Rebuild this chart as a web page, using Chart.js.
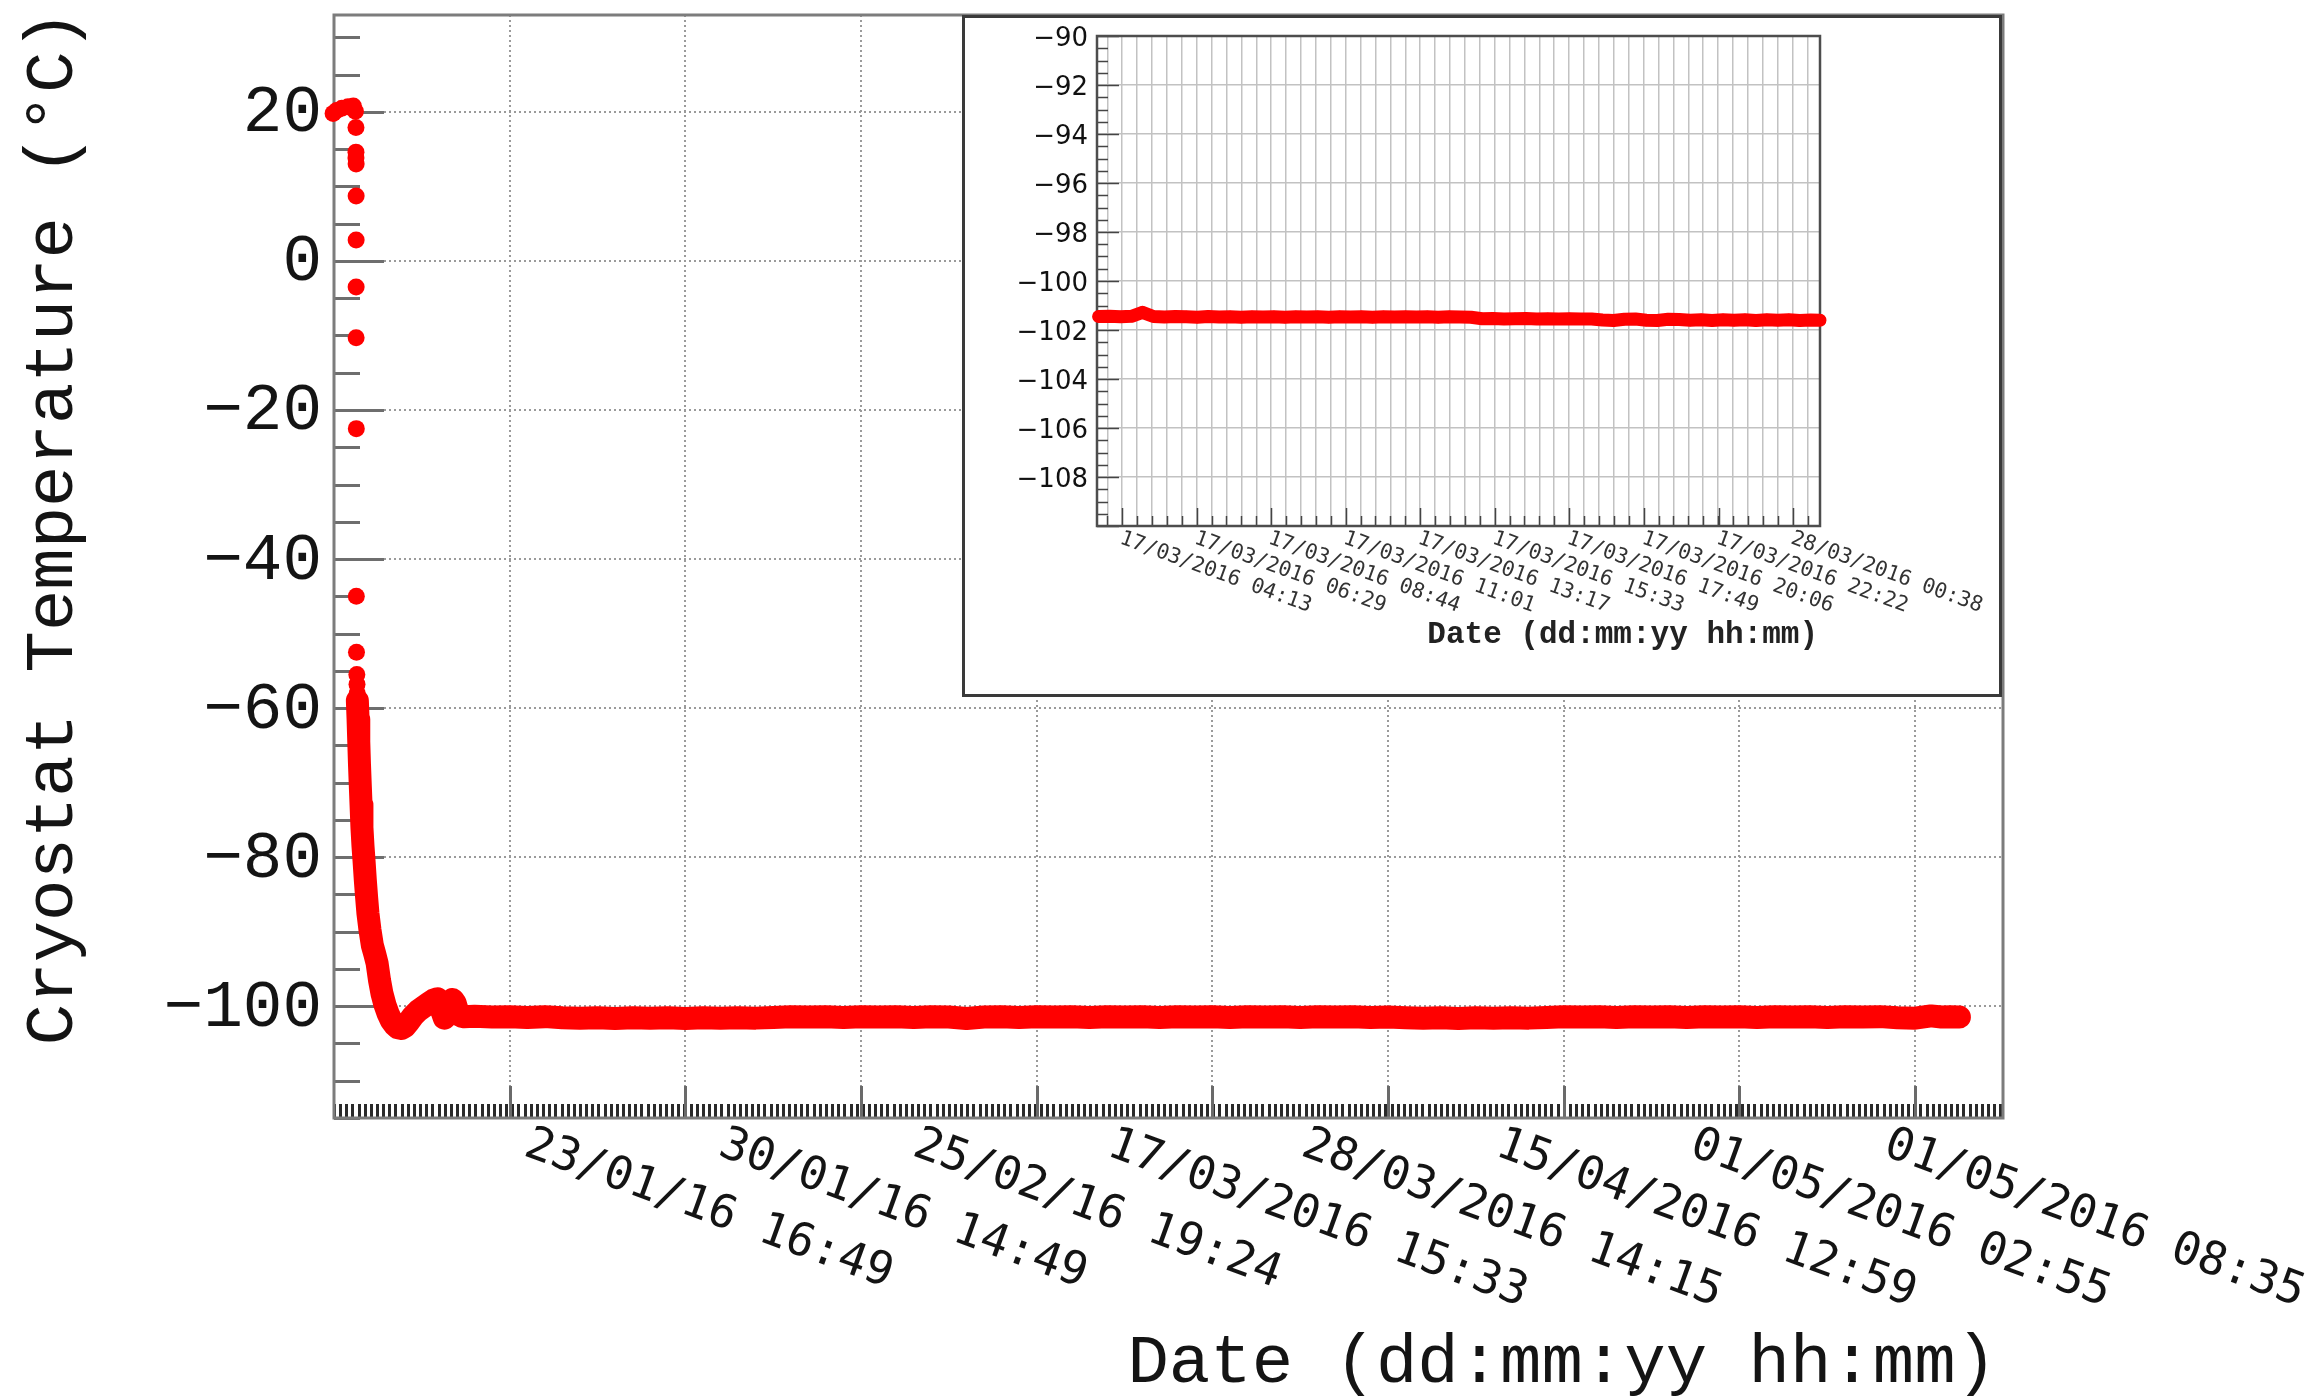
<!DOCTYPE html>
<html>
<head>
<meta charset="utf-8">
<title>Cryostat temperature</title>
<script src="https://cdn.jsdelivr.net/npm/chart.js@4.4.1/dist/chart.umd.min.js"></script>
<style>
  html, body { margin: 0; padding: 0; background: #ffffff; }
  #wrap { position: relative; width: 2306px; height: 1396px; overflow: hidden; }
  #main { position: absolute; left: 0; top: 0; width: 2306px; height: 1396px; }
  #inset { position: absolute; left: 962px; top: 15px; width: 1040px; height: 682px; }
</style>
</head>
<body>
<div id="wrap">
  <canvas id="main" width="2306" height="1396"></canvas>
  <canvas id="inset" width="1040" height="682"></canvas>
</div>
<script>
// ---- Full run: cryostat temperature per logged reading ----
const sampleIndex = [
  -22, -5, 15, 45, 80, 110, 122,
  125, 125, 125, 126, 126, 126, 126, 126, 127, 127, 128, 130, 131, 132,
  133, 137, 141, 145, 149, 154, 159, 165, 171, 178, 186, 193, 205, 218, 232, 245,
  259, 273, 290, 308, 326, 345, 364, 385, 404, 425, 450, 480, 510, 540, 565, 590,
  610, 628, 645, 660, 675, 690, 705, 720, 740,
  800, 900, 1000, 1100, 1200, 1300, 1400, 1500, 1600, 1700, 1800, 1900, 2000,
  2100, 2200, 2300, 2400, 2500, 2600, 2700, 2800, 2900, 3000, 3100, 3200, 3300,
  3400, 3500, 3600, 3700, 3800, 3900, 4000, 4100, 4200, 4300, 4400, 4500, 4600,
  4700, 4800, 4900, 5000, 5100, 5200, 5300, 5400, 5500, 5600, 5700, 5800, 5900,
  6000, 6100, 6200, 6300, 6400, 6500, 6600, 6700, 6800, 6900, 7000, 7100, 7200,
  7300, 7400, 7500, 7600, 7700, 7800, 7900, 8000, 8100, 8200, 8300, 8400, 8500,
  8600, 8700, 8800, 8900, 9000, 9090, 9150, 9200, 9252
];
const cryostatTemp = [
  20.0, 19.8, 20.2, 20.5, 20.7, 20.8, 20.1,
  17.9, 14.6, 13.8, 13.0, 8.7, 2.8, -3.5, -10.3, -22.5, -45.0, -52.5, -55.5, -56.8, -58.0,
  -59.0, -61.5, -64.5, -67.5, -70.0, -73.0, -76.0, -78.5, -80.5, -83.0, -85.5, -87.5, -89.8, -91.8, -93.0, -94.2,
  -96.5, -98.3, -99.8, -101.0, -101.9, -102.5, -102.9, -103.0, -102.7, -102.1, -101.3, -100.6, -100.1, -99.6, -99.2, -99.0,
  -100.4, -101.6, -100.6, -99.5, -99.1, -99.6, -100.8, -101.3, -101.4,
  -101.35, -101.45, -101.4, -101.5, -101.4, -101.55, -101.6, -101.55, -101.65, -101.55, -101.6, -101.55, -101.65,
  -101.55, -101.6, -101.55, -101.6, -101.5, -101.4, -101.45, -101.4, -101.5, -101.4, -101.45, -101.4, -101.5,
  -101.4, -101.45, -101.65, -101.45, -101.4, -101.5, -101.4, -101.45, -101.4, -101.5, -101.4, -101.45, -101.4,
  -101.5, -101.4, -101.45, -101.4, -101.5, -101.4, -101.45, -101.4, -101.5, -101.4, -101.45, -101.4, -101.5,
  -101.45, -101.55, -101.6, -101.55, -101.65, -101.55, -101.6, -101.55, -101.6, -101.5, -101.4, -101.45, -101.4,
  -101.5, -101.4, -101.45, -101.4, -101.5, -101.4, -101.45, -101.4, -101.5, -101.4, -101.45, -101.4, -101.5,
  -101.4, -101.45, -101.4, -101.55, -101.6, -101.3, -101.45, -101.4, -101.45
];
// first reading from which the logger ran continuously (joined as a trace)
const denseFrom = 21;

// Axis layout of the full run
const tempMajorStep = 20;
const tempMinorStep = 5;
const sampleGridStep = 1000;
const sampleMinorStep = 35;
const dateLabels = [
  '23/01/16 16:49', '30/01/16 14:49', '25/02/16 19:24', '17/03/2016 15:33',
  '28/03/2016 14:15', '15/04/2016 12:59', '01/05/2016 02:55', '01/05/2016 08:35'
];
const dateLabelAt = [1140, 2246, 3352, 4458, 5564, 6670, 7776, 8880];

// ---- Inset: one day of the plateau (minutes from 17/03/2016 00:00) ----
const insetMinutes = [
  210, 230, 250, 270, 290, 310, 330, 350, 370, 390, 410, 430, 450, 470, 490, 510,
  530, 550, 570, 590, 610, 630, 650, 670, 690, 710, 730, 750, 770, 790, 810, 830,
  850, 870, 890, 910, 930, 950, 970, 990, 1010, 1030, 1050, 1070, 1090, 1110, 1130,
  1150, 1170, 1190, 1210, 1230, 1250, 1270, 1290, 1310, 1330, 1350, 1370, 1390,
  1410, 1430, 1450, 1470, 1490, 1510, 1527
];
const insetTemp = [
  -101.45, -101.44, -101.46, -101.44, -101.28, -101.45, -101.47, -101.45, -101.46, -101.48,
  -101.45, -101.47, -101.46, -101.48, -101.46, -101.47, -101.46, -101.48, -101.46, -101.47,
  -101.46, -101.48, -101.46, -101.47, -101.46, -101.48, -101.46, -101.47, -101.46, -101.47,
  -101.46, -101.48, -101.46, -101.47, -101.48, -101.54, -101.53, -101.55, -101.54, -101.53,
  -101.55, -101.54, -101.55, -101.54, -101.55, -101.55, -101.59, -101.61, -101.56, -101.55,
  -101.60, -101.61, -101.56, -101.57, -101.60, -101.58, -101.61, -101.58, -101.60, -101.58,
  -101.61, -101.58, -101.60, -101.58, -101.61, -101.59, -101.60
];
const insetLabels = [
  '17/03/2016 04:13', '17/03/2016 06:29', '17/03/2016 08:44', '17/03/2016 11:01',
  '17/03/2016 13:17', '17/03/2016 15:33', '17/03/2016 17:49', '17/03/2016 20:06',
  '17/03/2016 22:22', '28/03/2016 00:38'
];
const insetLabelAt = [253, 389, 524, 661, 797, 933, 1069, 1206, 1342, 1478];
const insetTempStep = 2;
const insetTempMinorStep = 0.5;
const insetSubdivisions = 5;

const RED = '#ff0000';
const MINUS = '\u2212';
const fmtNum = v => (v < 0 ? MINUS + Math.abs(v) : String(v));
const LABEL_ANGLE = 20 * Math.PI / 180;

// ---------- main chart decorations: frame, inward ticks, labels, titles ----------
const mainDecor = {
  id: 'mainDecor',
  beforeDatasetsDraw(chart) {
    const { ctx, chartArea: a, scales: { x, y } } = chart;
    ctx.save();
    ctx.lineCap = 'butt';
    // y ticks (inward from the left axis)
    ctx.strokeStyle = '#6e6e6e';
    ctx.lineWidth = 3;
    ctx.beginPath();
    for (let v = Math.ceil(y.min / tempMinorStep) * tempMinorStep; v <= y.max; v += tempMinorStep) {
      const py = Math.round(y.getPixelForValue(v)) + 0.5;
      const len = (v % tempMajorStep === 0) ? 50 : 26;
      ctx.moveTo(a.left, py);
      ctx.lineTo(a.left + len, py);
    }
    ctx.stroke();
    // x ticks (inward from the bottom axis)
    ctx.strokeStyle = '#2a2a2a';
    ctx.lineWidth = 3;
    ctx.beginPath();
    for (let v = 0; v <= x.max; v += sampleMinorStep) {
      const px = Math.round(x.getPixelForValue(v)) + 0.5;
      ctx.moveTo(px, a.bottom);
      ctx.lineTo(px, a.bottom - 14);
    }
    ctx.stroke();
    ctx.strokeStyle = '#6a6a6a';
    ctx.lineWidth = 3;
    ctx.beginPath();
    for (let v = sampleGridStep; v <= x.max; v += sampleGridStep) {
      const px = Math.round(x.getPixelForValue(v)) + 0.5;
      ctx.moveTo(px, a.bottom);
      ctx.lineTo(px, a.bottom - 32);
    }
    ctx.stroke();
    // frame
    ctx.strokeStyle = '#7c7c7c';
    ctx.lineWidth = 3;
    ctx.strokeRect(a.left, a.top, a.right - a.left, a.bottom - a.top);
    ctx.restore();
  },
  afterDraw(chart) {
    const { ctx, chartArea: a, scales: { x, y } } = chart;
    ctx.save();
    ctx.fillStyle = '#141414';
    // y tick labels
    ctx.font = '66px "Liberation Mono"';
    ctx.textAlign = 'right';
    ctx.textBaseline = 'middle';
    for (let v = -100; v <= y.max; v += tempMajorStep) {
      ctx.fillText(fmtNum(v), 322, y.getPixelForValue(v) + 2);
    }
    // rotated date labels
    ctx.font = '46px "DejaVu Sans Mono"';
    ctx.textAlign = 'left';
    ctx.textBaseline = 'top';
    dateLabels.forEach((t, i) => {
      ctx.save();
      ctx.translate(x.getPixelForValue(dateLabelAt[i]), a.bottom + 4);
      ctx.rotate(LABEL_ANGLE);
      ctx.fillText(t, 0, 0);
      ctx.restore();
    });
    // axis titles
    ctx.font = '69px "Liberation Mono"';
    ctx.textAlign = 'right';
    ctx.textBaseline = 'alphabetic';
    ctx.fillText('Date (dd:mm:yy hh:mm)', a.right - 6, 1382);
    ctx.save();
    ctx.translate(72, a.top - 5);
    ctx.rotate(-Math.PI / 2);
    ctx.fillText('Cryostat Temperature (\u00B0C)', 0, 0);
    ctx.restore();
    ctx.restore();
  }
};

new Chart(document.getElementById('main'), {
  type: 'scatter',
  data: {
    datasets: [{
      label: 'Cryostat Temperature',
      data: sampleIndex.map((s, i) => ({ x: s, y: cryostatTemp[i] })),
      showLine: true,
      borderColor: RED,
      backgroundColor: RED,
      borderWidth: 23,
      borderJoinStyle: 'round',
      borderCapStyle: 'round',
      pointRadius: 8.5,
      pointHoverRadius: 8.5,
      pointBorderWidth: 0,
      clip: false,
      segment: {
        borderColor: ctx => (ctx.p0DataIndex < denseFrom ? 'rgba(0,0,0,0)' : RED)
      }
    }]
  },
  options: {
    responsive: false,
    maintainAspectRatio: false,
    animation: false,
    devicePixelRatio: 1,
    events: [],
    layout: { padding: { left: 334, top: 15, right: 303, bottom: 278 } },
    plugins: { legend: { display: false }, tooltip: { enabled: false } },
    scales: {
      x: {
        type: 'linear',
        min: 0,
        max: 9500,
        ticks: { display: false },
        afterBuildTicks: scale => {
          const t = [];
          for (let v = sampleGridStep; v < scale.max; v += sampleGridStep) t.push({ value: v });
          scale.ticks = t;
        },
        grid: { drawTicks: false, color: '#9a9a9a', lineWidth: 2 },
        border: { display: false, dash: [2, 3] }
      },
      y: {
        type: 'linear',
        min: -115,
        max: 33,
        ticks: { display: false, stepSize: tempMajorStep, includeBounds: false },
        grid: { drawTicks: false, color: '#9a9a9a', lineWidth: 2 },
        border: { display: false, dash: [2, 3] }
      }
    }
  },
  plugins: [mainDecor]
});

// ---------- inset chart ----------
const insetGrid = [];
{
  const step = (insetLabelAt[1] - insetLabelAt[0]) / insetSubdivisions;
  for (let v = insetLabelAt[0]; v > 207; v -= step) insetGrid.unshift(v);
  for (let v = insetLabelAt[0] + step; v < 1527; v += step) insetGrid.push(v);
}

const insetDecor = {
  id: 'insetDecor',
  beforeDraw(chart) {
    const { ctx, width, height } = chart;
    ctx.save();
    ctx.fillStyle = '#ffffff';
    ctx.fillRect(0, 0, width, height);
    ctx.restore();
  },
  beforeDatasetsDraw(chart) {
    const { ctx, chartArea: a, scales: { x, y } } = chart;
    ctx.save();
    ctx.strokeStyle = '#444444';
    ctx.lineWidth = 1.5;
    ctx.beginPath();
    const nMinor = Math.round((y.max - y.min) / insetTempMinorStep);
    for (let k = 0; k <= nMinor; k++) {
      const v = y.min + k * insetTempMinorStep;
      const py = Math.round(y.getPixelForValue(v)) + 0.5;
      const len = (k % (insetTempStep / insetTempMinorStep) === 0) ? 22 : 11;
      ctx.moveTo(a.left, py);
      ctx.lineTo(a.left + len, py);
    }
    insetGrid.forEach(v => {
      const px = Math.round(x.getPixelForValue(v)) + 0.5;
      ctx.moveTo(px, a.bottom);
      ctx.lineTo(px, a.bottom - 10);
    });
    insetLabelAt.forEach(v => {
      const px = Math.round(x.getPixelForValue(v)) + 0.5;
      ctx.moveTo(px, a.bottom);
      ctx.lineTo(px, a.bottom - 18);
    });
    ctx.stroke();
    ctx.strokeStyle = '#4d4d4d';
    ctx.lineWidth = 2.5;
    ctx.strokeRect(a.left, a.top, a.right - a.left, a.bottom - a.top);
    ctx.restore();
  },
  afterDraw(chart) {
    const { ctx, chartArea: a, scales: { x, y }, width, height } = chart;
    ctx.save();
    ctx.fillStyle = '#111111';
    ctx.font = '500 26px "DejaVu Sans"';
    ctx.textAlign = 'right';
    ctx.textBaseline = 'middle';
    for (let v = -108; v <= -90; v += insetTempStep) {
      ctx.fillText(fmtNum(v), a.left - 9, y.getPixelForValue(v) + 3);
    }
    ctx.fillStyle = '#333333';
    ctx.font = '21px "DejaVu Sans Mono"';
    ctx.textAlign = 'left';
    ctx.textBaseline = 'top';
    insetLabels.forEach((t, i) => {
      ctx.save();
      ctx.translate(x.getPixelForValue(insetLabelAt[i]) + 2, a.bottom + 2);
      ctx.rotate(LABEL_ANGLE);
      ctx.fillText(t, 0, 0);
      ctx.restore();
    });
    ctx.fillStyle = '#222222';
    ctx.font = 'bold 31px "Liberation Mono"';
    ctx.textAlign = 'right';
    ctx.textBaseline = 'alphabetic';
    ctx.fillText('Date (dd:mm:yy hh:mm)', a.right - 2, 628);
    // outer frame of the inset pad
    ctx.strokeStyle = '#3a3a3a';
    ctx.lineWidth = 3;
    ctx.strokeRect(1.5, 1.5, width - 3, height - 3);
    ctx.restore();
  }
};

new Chart(document.getElementById('inset'), {
  type: 'scatter',
  data: {
    datasets: [{
      label: 'Cryostat Temperature (17/03/2016)',
      data: insetMinutes.map((m, i) => ({ x: m, y: insetTemp[i] })),
      showLine: true,
      borderColor: RED,
      backgroundColor: RED,
      borderWidth: 13,
      borderJoinStyle: 'round',
      borderCapStyle: 'round',
      pointRadius: 6,
      pointHoverRadius: 6,
      pointBorderWidth: 0,
      clip: false
    }]
  },
  options: {
    responsive: false,
    maintainAspectRatio: false,
    animation: false,
    devicePixelRatio: 1,
    events: [],
    layout: { padding: { left: 135, top: 21, right: 182, bottom: 171 } },
    plugins: { legend: { display: false }, tooltip: { enabled: false } },
    scales: {
      x: {
        type: 'linear',
        min: 207,
        max: 1527,
        ticks: { display: false },
        afterBuildTicks: scale => { scale.ticks = insetGrid.map(v => ({ value: v })); },
        grid: { drawTicks: false, color: '#c2c2c2', lineWidth: 1.5 },
        border: { display: false }
      },
      y: {
        type: 'linear',
        min: -110,
        max: -90,
        ticks: { display: false, stepSize: insetTempStep },
        grid: { drawTicks: false, color: '#c2c2c2', lineWidth: 1.5 },
        border: { display: false }
      }
    }
  },
  plugins: [insetDecor]
});
</script>
</body>
</html>
